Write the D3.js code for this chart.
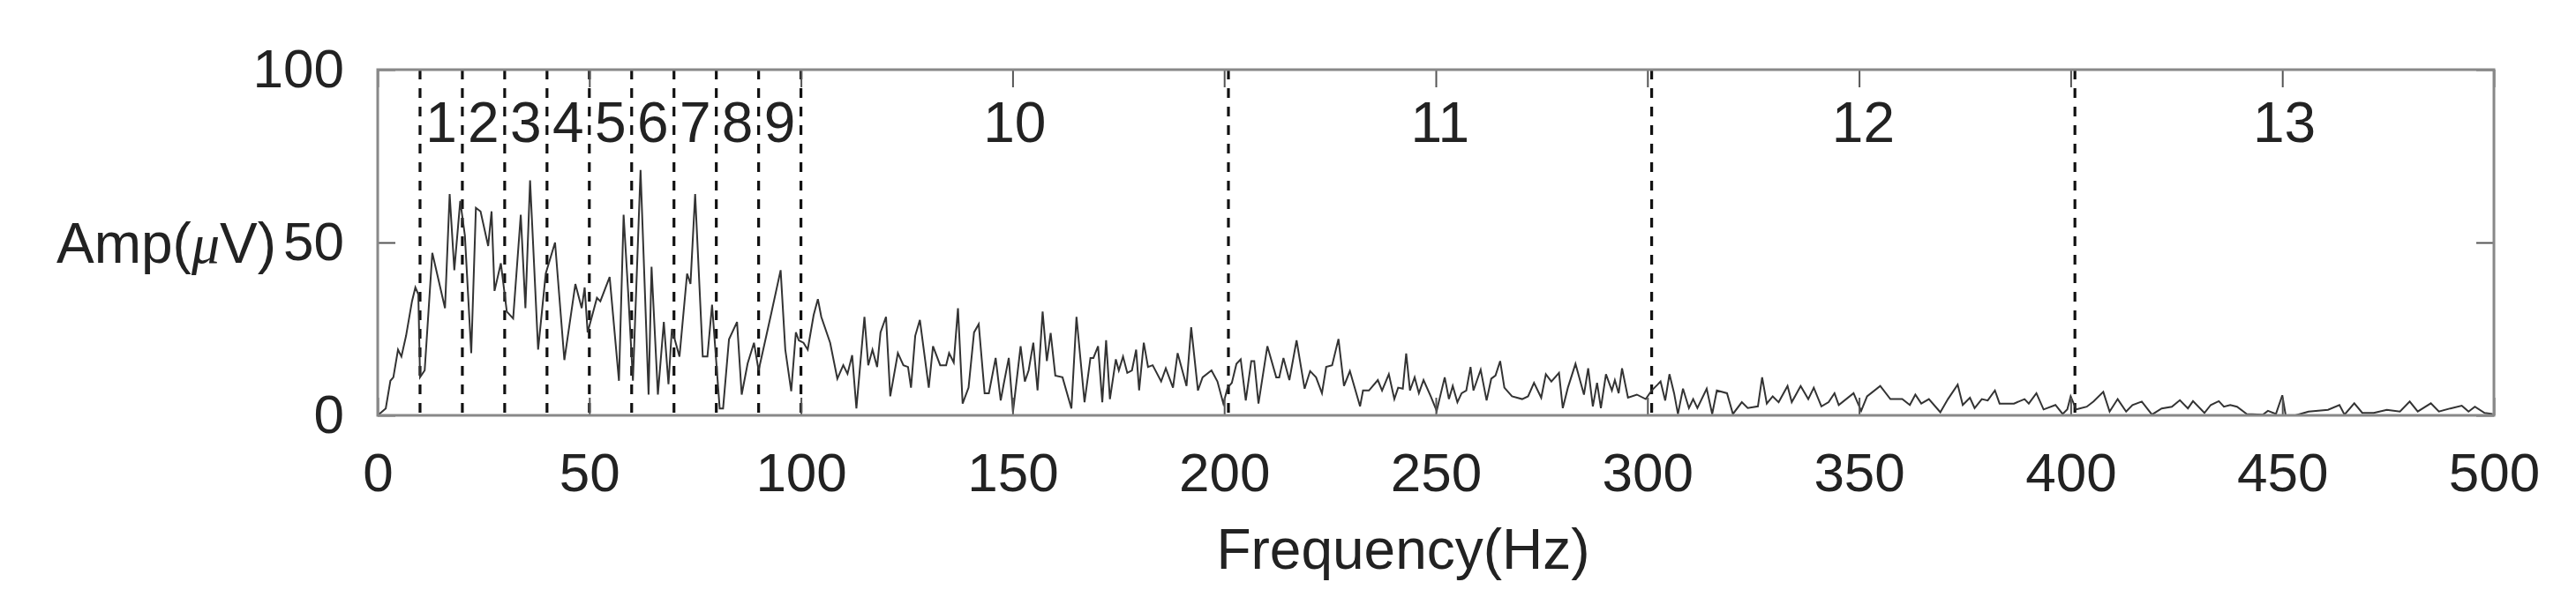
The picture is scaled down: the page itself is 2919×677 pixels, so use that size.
<!DOCTYPE html>
<html>
<head>
<meta charset="utf-8">
<script src="https://cdn.jsdelivr.net/npm/d3@7"></script>
<style>
  body { margin: 0; background: #fff; }
  text { font-family: "Liberation Sans", Arial, sans-serif; fill: #222; }
</style>
</head>
<body>
<div id="chart"></div>
<script>
// spectrum trace: [Hz, uV]
const spectrum = [
  [0,0],[1.9,2],[3.0,10],[3.7,11],[4.8,19],[5.6,17],[6.7,23],[8.1,33],[8.9,37],[9.6,35],
  [10,11],[11.1,13],[12.9,47],[15.9,31],[17,64],[18.1,42],[19.5,62],[20.6,52],[22.1,18],[23.2,60],
  [24.3,59],[26.1,49],[26.9,59],[27.6,36],[29.1,44],[30.5,30],[32,28],[33.8,58],[34.9,31],[36,68],
  [37.9,19],[39.7,41],[41.9,50],[44.1,16],[46.7,38],[48.2,31],[48.9,37],[49.6,24],[51.8,34],[52.6,33],
  [54.8,40],[57,10],[58.1,58],[59.2,35],[60.3,10],[62.1,71],[64,6],[64.7,43],[66.2,6],[67.6,27],
  [68.7,9],[69.5,25],[71.3,17],[73.1,41],[73.9,38],[75,64],[76.8,17],[77.9,17],[79,32],[80.8,2],
  [81.6,2],[83,22],[84.9,27],[86,6],[87.4,15],[88.9,21],[90,13],[92.9,29],[95.2,42],[96.3,19],
  [97.7,7],[98.8,24],[99.5,21.7],[100.6,21],[101.6,19],[103,29],[104,33.6],[104.8,28.5],[106.9,21],[108.6,10.6],
  [110,14.5],[111,12],[112.1,17.4],[113.1,2],[115,28.5],[115.9,14.5],[116.9,19],[118,14],[118.8,24],[120.1,28.5],
  [121.1,5.5],[122.9,18],[124.2,14.5],[125.3,14],[126,8],[127,23],[128.1,27.6],[130.2,8],[131.2,20],[132.9,14.5],
  [134.3,14.5],[135,18],[136.1,15.3],[137.1,31],[138.2,3.4],[139.6,8],[140.9,24],[142,26.4],[143.4,6.4],[144.4,6.4],
  [146,16.6],[147.2,4.3],[147.9,9],[149.1,16.6],[150.1,1],[151.9,20],[152.9,9.8],[153.8,13],[154.9,21],[155.9,7.2],
  [157.1,30],[158.1,15.7],[159,23.8],[160.1,11.5],[161.8,11],[163.9,2],[165.1,28.5],[167,3.8],[168.4,16.6],[169.1,16.6],
  [170.2,20],[171.2,3.8],[172.1,21.7],[173,4.7],[174.4,16.2],[175.1,13],[176.1,17],[177.1,12.3],[178.2,13],[179.2,19],
  [179.9,7.2],[181,21],[182,14],[183.1,14.5],[185.1,9.8],[186.2,13.6],[187.9,8],[189,18],[191.1,8.5],[192.2,25.5],
  [193.8,7.2],[194.9,11],[197,13],[198.4,9.8],[199.8,3.4],[200.8,8],[201.8,9.4],[202.9,14.9],[203.9,16.2],[205.1,4.3],
  [206.4,15.7],[207.1,15.7],[208.1,3.4],[210.2,20],[212.3,11],[213,11],[214,16.6],[215.4,10.2],[217.1,21.7],[219,7.7],
  [220.3,12.8],[221.7,11],[223.1,6.4],[224.1,14],[225.5,14.5],[227,22.1],[228.3,8.5],[229.7,12.8],[232.1,2.6],[232.8,7.2],
  [234.2,7.2],[236.3,10.2],[237.3,7.2],[238.9,11.9],[240.2,4.7],[241.1,8],[242.2,7.7],[243,17.9],[243.9,7.2],[245,11],
  [246,6.4],[247.1,10.2],[248.8,5.5],[250.2,1.3],[252.1,11],[253.1,4.7],[254,8.5],[255.1,3.8],[256.1,6.4],[257.2,7.2],
  [258.2,14],[258.9,7.2],[260.6,13.2],[262,4.3],[263.1,10.6],[264.1,11.5],[265.2,15.7],[266.2,8],[268,5.5],[270.4,4.7],
  [271.8,5.5],[273.2,9.4],[274.9,5.1],[276,11.9],[277.3,9.8],[279.1,12.3],[280,2.1],[281.2,8],[283,14.9],[285,6],
  [286,13.6],[287.1,2.6],[288.1,9.4],[289,2.1],[290.2,11.9],[291.6,7.2],[292.3,10.2],[293.2,6.4],[294,13.6],[295.4,5.1],
  [297.5,6],[299.6,4.7],[301,7.2],[302.4,8.9],[303.1,9.8],[304.2,4.3],[305.2,11.9],[306.3,6.4],[307.2,0.4],[308.4,7.7],
  [309.8,2.1],[310.8,4.7],[311.8,2.1],[314,7.7],[315.3,0.4],[316.4,7.2],[318.8,6.4],[320.2,0.4],[322.3,3.8],[323.7,2.1],
  [326.1,2.6],[327.1,11],[328.2,3.4],[329.6,5.5],[331,3.8],[333.1,8.5],[334.1,3.8],[336.2,8.5],[338,4.7],[339.3,8],
  [341.1,2.6],[342.8,3.8],[344.2,6.4],[345.2,3],[348.7,6.4],[350.5,1.3],[351.9,5.5],[355,8.5],[357.4,4.7],[360.2,4.7],
  [362,3],[363.3,6],[364.7,3.4],[366.5,4.7],[369.2,0.9],[371,4.7],[373.3,8.9],[374.5,3],[376.2,5.1],[377.3,2.1],
  [379,4.7],[380.4,4.3],[382.1,7.2],[383.2,3.4],[386.6,3.4],[389.1,4.7],[390.1,3.4],[391.9,6.4],[393.6,1.7],[396.4,3],
  [398.1,0.4],[399.2,1.7],[400,5.5],[401.3,1.7],[403.8,2.5],[405.4,4],[407.7,6.8],[409.2,1.1],[411.1,4.7],[413.1,1.1],
  [414.6,3],[416.8,4],[419.2,0.2],[421.5,2],[423.9,2.5],[425.8,4.4],[427.7,2],[428.9,4.1],[431.6,0.7],[433.1,3],
  [435,4.1],[436.2,2.5],[437.7,3],[439.3,2.5],[441.6,0.4],[445.4,0.2],[446.6,1.3],[448.5,0.4],[450,5.8],[450.8,0],
  [453.1,0],[456.2,1.1],[460.8,1.6],[463.5,3],[464.7,0.2],[467,3.5],[468.9,0.7],[471.6,0.7],[474.7,1.6],[477.8,1.1],
  [480.1,4],[482,1.1],[485.1,3.5],[487,1.1],[489.7,2],[492.4,2.8],[494,1.1],[495.5,2.5],[497.8,0.7],[499.7,0.4]
];

const bandEdges = [10, 20, 30, 40, 50, 60, 70, 80, 90, 100, 201, 301, 401];
const bandLabels = ['1','2','3','4','5','6','7','8','9','10','11','12','13'];
const xTicks = [0, 50, 100, 150, 200, 250, 300, 350, 400, 450, 500];
const yTicks = [0, 50, 100];

const width = 2919, height = 677;
const margin = { top: 79, right: 93, bottom: 206, left: 428 };
const plotW = width - margin.left - margin.right;
const plotH = height - margin.top - margin.bottom;

const svg = d3.select('#chart').append('svg').attr('width', width).attr('height', height);
const g = svg.append('g').attr('transform', `translate(${margin.left}, ${margin.top})`);

const x = d3.scaleLinear().domain([0, 500]).range([0, plotW]);
const y = d3.scaleLinear().domain([0, 100]).range([plotH, 0]);

// band separators
g.selectAll('.band').data(bandEdges).enter().append('line')
  .attr('x1', d => x(d)).attr('x2', d => x(d))
  .attr('y1', 0).attr('y2', plotH)
  .attr('stroke', '#111').attr('stroke-width', 3.2)
  .attr('stroke-dasharray', '11,10');

// trace
g.append('path').datum(spectrum)
  .attr('fill', 'none').attr('stroke', '#333').attr('stroke-width', 2)
  .attr('d', d3.line().x(d => x(d[0])).y(d => y(d[1])));

// band numbers centred between consecutive separators
const edges = bandEdges.concat([500]);
g.selectAll('.blabel').data(bandLabels).enter().append('text')
  .attr('x', (d, i) => (x(edges[i]) + x(edges[i + 1])) / 2)
  .attr('y', 82)
  .attr('text-anchor', 'middle').attr('font-size', 64)
  .text(d => d);

// axes with inward ticks, mirrored
const tickLen = 20;
g.append('g').attr('transform', `translate(0, ${plotH})`)
  .call(d3.axisBottom(x).tickValues(xTicks).tickSize(-tickLen).tickPadding(tickLen + 22))
  .call(a => a.select('.domain').remove())
  .call(a => a.selectAll('text').attr('font-size', 62).attr('fill', '#222'));
g.append('g')
  .call(d3.axisTop(x).tickValues(xTicks).tickSize(-tickLen).tickFormat(''))
  .call(a => a.select('.domain').remove());
g.append('g')
  .call(d3.axisLeft(y).tickValues(yTicks).tickSize(-tickLen).tickPadding(tickLen + 18))
  .call(a => a.select('.domain').remove())
  .call(a => a.selectAll('text').attr('font-size', 62).attr('fill', '#222'));
g.append('g').attr('transform', `translate(${plotW}, 0)`)
  .call(d3.axisRight(y).tickValues(yTicks).tickSize(-tickLen).tickFormat(''))
  .call(a => a.select('.domain').remove());
g.selectAll('.tick line').attr('stroke', '#555').attr('stroke-width', 2);

// frame
g.append('rect').attr('width', plotW).attr('height', plotH)
  .attr('fill', 'none').attr('stroke', '#888').attr('stroke-width', 3);

// axis titles
const yt = svg.append('text').attr('x', 313).attr('y', 298).attr('text-anchor', 'end').attr('font-size', 64);
yt.append('tspan').text('Amp(');
yt.append('tspan').attr('font-family', '"Liberation Serif", serif').attr('font-style', 'italic').text('μ');
yt.append('tspan').text('V)');

svg.append('text').attr('x', 1590).attr('y', 645).attr('text-anchor', 'middle')
  .attr('font-size', 64).text('Frequency(Hz)');
</script>
</body>
</html>
